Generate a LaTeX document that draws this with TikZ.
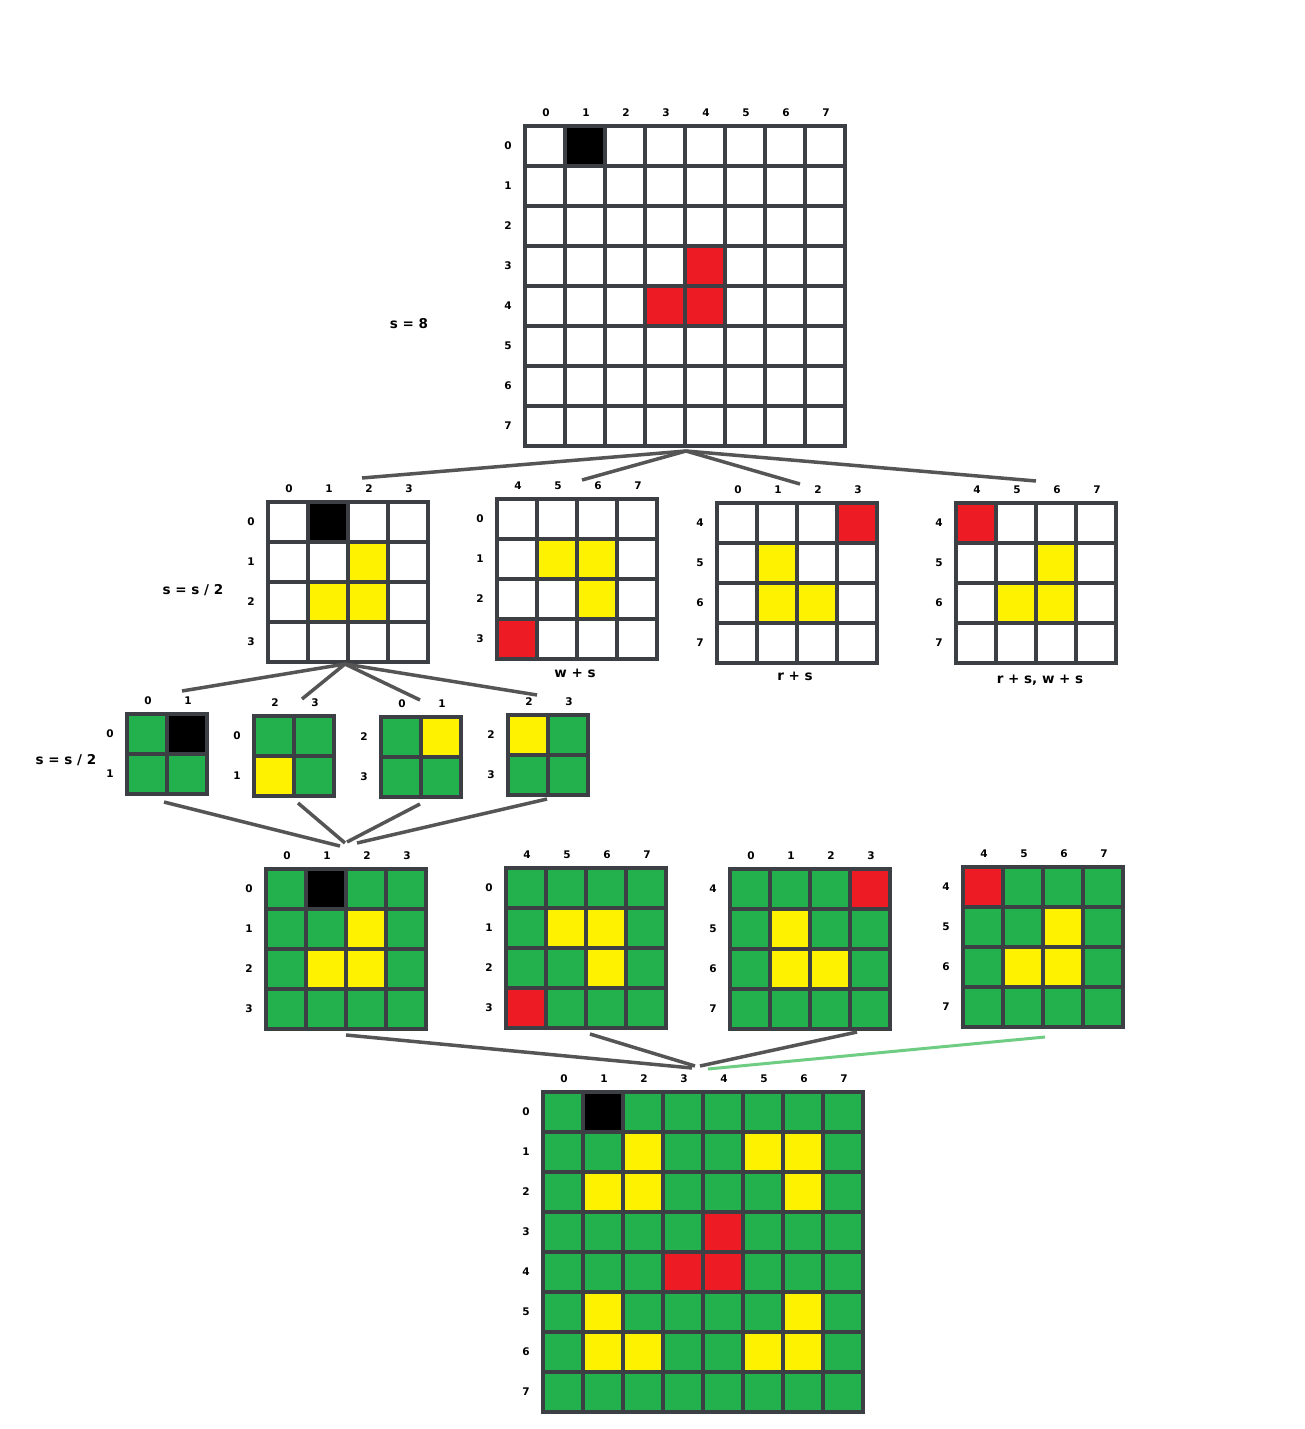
\documentclass[tikz,border=0pt]{standalone}
\usepackage{fontspec}
\setmainfont{DejaVu Sans}
\definecolor{cgreen}{RGB}{34,177,76}
\definecolor{cyel}{RGB}{255,242,0}
\definecolor{cred}{RGB}{237,28,36}
\definecolor{cline}{RGB}{60,63,68}
\definecolor{cconn}{RGB}{85,85,85}
\definecolor{cgconn}{RGB}{110,205,130}
\tikzset{
  gl/.style={draw=cline, line width=3.2pt, line cap=rect},
  lab/.style={font=\fontsize{10.5}{12}\selectfont\bfseries, inner sep=0pt},
  biglab/.style={font=\fontsize{13.5}{15}\selectfont\bfseries, inner sep=0pt},
  conn/.style={draw=cconn, line width=3.5pt},
  gconn/.style={draw=cgconn, line width=3pt},
}
% #1 name, #2 x0, #3 y0, #4 n, #5 bg, #6 cells, #7 col labels, #8 row labels
\newcommand\mygrid[8]{%
  \begin{scope}[shift={(#2,#3)}]
    \node[inner sep=0pt, outer sep=0pt, minimum width=#4*40pt, minimum height=#4*40pt, anchor=north west, fill=#5] (#1) at (0,0) {};
    \foreach \ci/\cj/\cc in {#6} {\fill[\cc] (\ci*40,\cj*40) rectangle +(40,40);}
    \foreach \k in {0,...,#4} {
      \draw[gl] (\k*40,0) -- (\k*40,#4*40);
      \draw[gl] (0,\k*40) -- (#4*40,\k*40);
    }
    \foreach \lab [count=\k from 0] in {#7} {\node[lab] at (\k*40+21,-13) {\lab};}
    \foreach \lab [count=\k from 0] in {#8} {\node[lab] at (-17,\k*40+20) {\lab};}
  \end{scope}%
}
\begin{document}
\begin{tikzpicture}[x=1pt,y=-1pt]
\useasboundingbox (0,0) rectangle (1304,1429);
\fill[white] (0,0) rectangle (1304,1429);

% top grid
\mygrid{top}{525}{126}{8}{white}{1/0/black,4/3/cred,3/4/cred,4/4/cred}{0,1,2,3,4,5,6,7}{0,1,2,3,4,5,6,7}
\node[biglab] (s8) at (409,324) {s = 8};

% level 2
\mygrid{ga}{268}{502}{4}{white}{1/0/black,2/1/cyel,1/2/cyel,2/2/cyel}{0,1,2,3}{0,1,2,3}
\mygrid{gb}{497}{499}{4}{white}{1/1/cyel,2/1/cyel,2/2/cyel,0/3/cred}{4,5,6,7}{0,1,2,3}
\mygrid{gc}{717}{503}{4}{white}{3/0/cred,1/1/cyel,1/2/cyel,2/2/cyel}{0,1,2,3}{4,5,6,7}
\mygrid{gd}{956}{503}{4}{white}{0/0/cred,2/1/cyel,1/2/cyel,2/2/cyel}{4,5,6,7}{4,5,6,7}
\node[biglab] (s2a) at (193,590) {s = s / 2};
\node[biglab] (lb) at (575,673) {w + s};
\node[biglab] (lc) at (795,676) {r + s};
\node[biglab] (ld) at (1040,680) {r + s, w + s};

% level 3
\mygrid{ha}{127}{714}{2}{cgreen}{1/0/black}{0,1}{0,1}
\mygrid{hb}{254}{716}{2}{cgreen}{0/1/cyel}{2,3}{0,1}
\mygrid{hc}{381}{717}{2}{cgreen}{1/0/cyel}{0,1}{2,3}
\mygrid{hd}{508}{715}{2}{cgreen}{0/0/cyel}{2,3}{2,3}
\node[biglab] (s2b) at (66,760) {s = s / 2};

% level 4
\mygrid{ka}{266}{869}{4}{cgreen}{1/0/black,2/1/cyel,1/2/cyel,2/2/cyel}{0,1,2,3}{0,1,2,3}
\mygrid{kb}{506}{868}{4}{cgreen}{1/1/cyel,2/1/cyel,2/2/cyel,0/3/cred}{4,5,6,7}{0,1,2,3}
\mygrid{kc}{730}{869}{4}{cgreen}{3/0/cred,1/1/cyel,1/2/cyel,2/2/cyel}{0,1,2,3}{4,5,6,7}
\mygrid{kd}{963}{867}{4}{cgreen}{0/0/cred,2/1/cyel,1/2/cyel,2/2/cyel}{4,5,6,7}{4,5,6,7}

% final grid
\mygrid{fin}{543}{1092}{8}{cgreen}{1/0/black,2/1/cyel,1/2/cyel,2/2/cyel,5/1/cyel,6/1/cyel,6/2/cyel,1/5/cyel,1/6/cyel,2/6/cyel,6/5/cyel,5/6/cyel,6/6/cyel,4/3/cred,3/4/cred,4/4/cred}{0,1,2,3,4,5,6,7}{0,1,2,3,4,5,6,7}

% connector coordinates
\coordinate (ta) at (686,451);
\coordinate (t1) at (362,478);
\coordinate (t2) at (582,480);
\coordinate (t3) at (800,484);
\coordinate (t4) at (1036,481);
\coordinate (ma) at (345,664);
\coordinate (m1) at (182,691);
\coordinate (m2) at (302,699);
\coordinate (m3) at (420,700);
\coordinate (m4) at (537,695);
\coordinate (n1s) at (164,802); \coordinate (n1e) at (340,846);
\coordinate (n2s) at (298,803); \coordinate (n2e) at (345,843);
\coordinate (n3s) at (420,804); \coordinate (n3e) at (347,842);
\coordinate (n4s) at (547,799); \coordinate (n4e) at (357,843);
\coordinate (p1s) at (346,1035); \coordinate (p1e) at (692,1068);
\coordinate (p2s) at (590,1034); \coordinate (p2e) at (695,1066);
\coordinate (p3s) at (857,1032); \coordinate (p3e) at (700,1066);
\coordinate (p4s) at (1045,1037); \coordinate (p4e) at (708,1069);

\draw[conn] (t1) -- (ta);
\draw[conn] (t2) -- (ta);
\draw[conn] (ta) -- (t3);
\draw[conn] (ta) -- (t4);
\draw[conn] (m1) -- (ma);
\draw[conn] (m2) -- (ma);
\draw[conn] (ma) -- (m3);
\draw[conn] (ma) -- (m4);
\draw[conn] (n1s) -- (n1e);
\draw[conn] (n2s) -- (n2e);
\draw[conn] (n3s) -- (n3e);
\draw[conn] (n4s) -- (n4e);
\draw[conn] (p1s) -- (p1e);
\draw[conn] (p2s) -- (p2e);
\draw[conn] (p3s) -- (p3e);
\draw[gconn] (p4s) -- (p4e);
\end{tikzpicture}
\end{document}
